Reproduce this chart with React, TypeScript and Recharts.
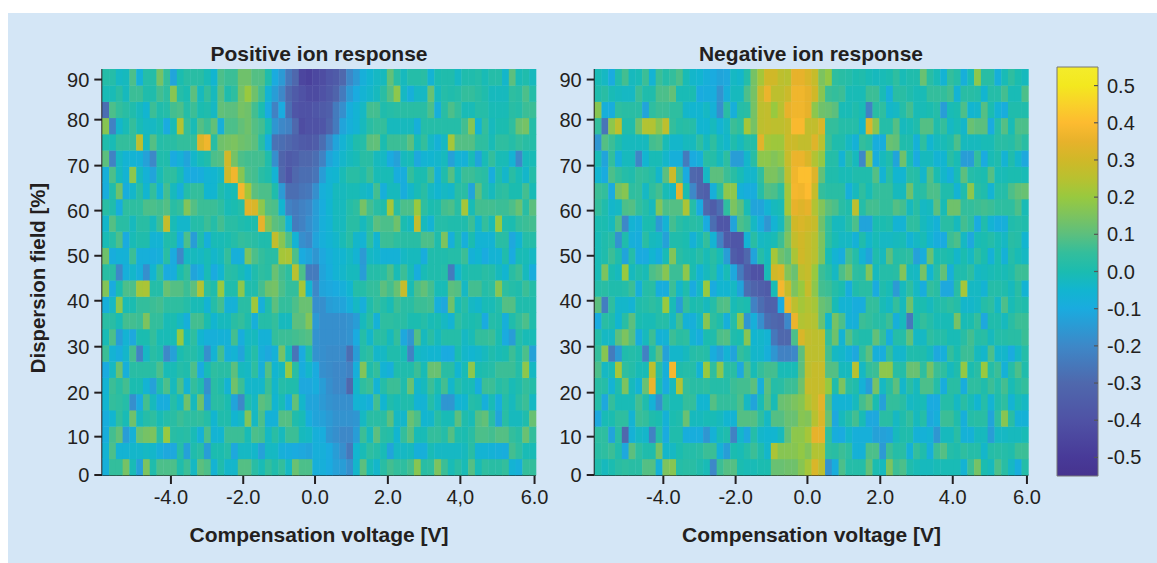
import React from "react";
import { Bar, BarChart, Scatter, ScatterChart, XAxis, YAxis } from "recharts";

// Response values in hundredths; one array per field row, 64 voltage columns each, row 24 is the top.
const pos24 = [2,2,-3,-2,8,-7,2,2,14,5, -12,0,3,3,3,-1,-5,8,6,6, 13,13,9,9,1,-10,-15,-25,-30,-45, -47,-44,-42,-38,-36,-30,-20,-15,-8,-5, -3,-2,11,3,-2,2,2,3,-6,0, 1,1,-3,1,1,2,-1,2,2,-4, 10,-1,1,-2];
const pos23 = [-1,-1,3,-2,6,6,1,1,7,4, 17,2,0,10,-2,5,-2,10,1,4, 14,20,13,7,-6,-14,-20,-30,-36,-40, -43,-43,-40,-37,-32,-24,-15,-10,-6,-4, -2,3,9,18,-3,-8,-3,-3,12,-2, 2,1,2,5,5,3,1,-2,-2,-2, 4,3,8,2];
const pos22 = [-28,8,5,3,1,-2,-5,6,1,2, 7,8,2,6,0,1,-3,11,10,10, 14,13,7,0,-10,-22,-10,-28,-38,-40, -40,-38,-36,-34,-24,-18,-9,-6,-3,7, 7,1,2,3,3,3,3,3,8,-8, 3,8,5,-1,-1,2,2,-1,-1,-1, 3,2,6,6];
const pos21 = [17,-22,-4,-1,5,-1,-3,-3,-1,-10, -1,24,5,-1,9,6,11,-8,8,8, 11,13,9,7,-1,-16,-20,-22,-30,-42, -40,-40,-38,-32,-24,-12,-8,-6,-2,3, 5,5,-2,-2,-2,-2,-8,2,2,2, 2,2,2,7,17,-6,5,-2,0,0, 4,12,14,2];
const pos20 = [1,-1,5,5,5,26,-2,9,2,3, 3,5,5,5,33,37,3,13,14,15, 13,12,10,3,-8,-27,-28,-30,-33,-36, -37,-35,-28,-20,-12,-6,-3,1,2,10, 11,0,6,6,6,10,-1,5,-3,-7, -3,22,9,9,9,4,4,-1,4,4, 2,5,3,2];
const pos19 = [10,-22,-3,-6,-6,-7,-13,-20,1,1, -10,-7,-12,-4,-1,1,8,9,30,14, 8,7,7,7,1,-18,-32,-36,-34,-30, -30,-28,-22,-12,-8,-4,-2,-1,3,3, -2,-3,-10,-13,-2,-1,-11,-6,-5,-4, -2,-13,-6,-7,-1,-12,-1,5,-1,-1, -6,-20,-2,-1];
const pos18 = [-8,8,-2,-6,18,-2,-7,-12,-1,4, 4,-1,-9,-10,-9,-6,-5,-3,30,37, 17,8,7,3,1,-6,-30,-38,-30,-28, -28,-26,-14,-6,-5,-1,3,3,1,6, -1,-1,-1,-9,-9,5,0,0,7,-7, 1,9,-1,6,6,4,3,-9,1,-4, 3,-1,-4,2];
const pos17 = [-9,1,13,-9,-4,3,-5,5,-6,7, -2,-8,2,5,5,-5,-5,1,-2,-1, 38,22,10,8,8,1,-15,-28,-28,-26, -25,-18,-8,-6,-2,-2,-1,-1,-3,-4, 7,-8,-2,-2,-9,-4,-1,3,-3,-5, -3,-4,3,3,-12,10,2,-2,3,4, 0,0,7,-1];
const pos16 = [3,1,-9,4,4,4,8,8,7,9, 3,5,16,9,6,6,6,4,-1,0, 2,34,32,18,9,8,-5,-22,-24,-22, -20,-14,-9,-5,-2,-2,2,4,14,7, 3,1,22,3,8,8,20,4,0,1, 7,8,3,22,-1,7,7,7,6,6, 8,12,3,10];
const pos15 = [-4,9,3,3,-2,3,3,-2,6,28, -1,-4,-4,2,2,6,2,7,3,3, 1,0,1,35,16,10,8,-6,-24,-22, -18,-14,-8,-6,-2,-2,3,3,-2,3, 10,8,8,13,0,-2,27,-2,-6,2, 2,1,1,1,6,-4,5,-1,20,1, 0,5,6,7];
const pos14 = [-1,2,8,-10,-1,1,1,-6,-6,1, 1,-9,8,-14,1,-8,-1,-1,0,2, 5,4,3,1,1,27,17,8,-6,-18, -20,-12,-8,-6,-4,-1,3,-4,-6,4, -5,6,6,4,3,3,3,8,8,1, 15,-8,1,-8,0,-6,-6,-6,3,3, -11,-5,2,2];
const pos13 = [13,-9,-7,-7,6,-8,-8,-9,-8,3, -10,-20,-3,-2,-3,-1,-4,-2,5,-8, -8,15,8,5,3,3,22,23,8,-10, -12,-16,-11,-8,-6,-5,-3,-6,-15,-3, -4,-7,-7,-7,-3,-2,-2,-9,1,1, 1,2,2,6,-7,-5,-10,-6,-6,1, -10,-1,-1,-3];
const pos12 = [3,3,-20,-8,-4,-8,-18,-5,5,-10, -9,0,5,-12,-9,-1,-10,-5,3,2, -1,-4,1,4,3,12,7,4,25,8, -24,-24,-12,-9,-6,-4,-2,-2,-14,2, 2,3,8,-1,6,-1,-9,-1,1,1, 2,-24,-4,0,1,1,3,2,-2,-5, 3,6,-2,-9];
const pos11 = [16,-10,0,8,8,22,23,2,2,12, 9,9,6,10,24,4,1,20,1,1, 18,1,1,7,13,14,8,5,5,22, -5,-20,-12,-11,-10,-8,-5,2,2,5, 5,10,7,12,28,-1,8,11,7,-1, -1,10,9,-3,7,7,2,4,17,4, 2,1,6,2];
const pos10 = [-8,-3,18,-1,0,5,5,6,7,4, 4,4,2,-1,-1,-6,2,7,-7,-7, 3,3,21,-8,1,10,5,5,8,12, 12,-18,-18,-14,-13,-12,-8,-3,-8,1, 5,2,-1,6,3,3,6,6,7,-8, -11,13,-1,3,-3,-4,-1,-1,2,9, 9,1,1,1];
const pos09 = [3,3,-1,7,7,6,15,5,5,-1, 0,-3,-8,7,7,0,-5,-2,-2,3, 5,1,-8,2,2,5,-2,-2,10,10, 16,-15,-18,-18,-18,-18,-17,-14,-2,3, -7,4,4,3,3,0,0,2,-1,0, -3,-6,4,1,0,1,-10,2,1,-8, 1,5,8,1];
const pos08 = [-1,8,-14,-6,-11,0,0,5,-1,-1, -1,20,-1,4,-5,-8,-8,-7,-7,7, -9,-3,-2,-7,-7,5,6,6,7,8, 9,-17,-18,-18,-18,-18,-17,-10,2,-4, 3,3,-2,5,-11,-16,9,-2,3,-2, 2,2,2,-3,-1,5,5,6,0,-10, -14,2,-1,-1];
const pos07 = [6,-6,-9,-4,7,-22,-3,3,1,-20, -13,0,2,2,-1,-18,-6,7,-8,-6, -12,-2,2,-8,-11,-7,14,-1,-26,-10, 1,-17,-18,-19,-19,-19,-28,-14,2,4, -4,-3,1,1,-1,-22,-3,-4,-5,-5, -10,-10,0,-4,-5,-4,-2,1,-1,0, 6,1,8,-13];
const pos06 = [-10,-3,12,-8,3,3,3,3,8,-1, -1,2,1,8,-10,-1,4,3,3,10, -2,-3,4,-8,9,-5,-2,20,3,-9, -4,-10,-18,-19,-20,-20,-22,-8,16,1, 5,-6,-8,1,1,1,6,-1,12,12, 3,3,-5,-1,18,0,1,2,6,6, 6,2,18,-3];
const pos05 = [-6,6,3,7,0,0,-6,-13,1,8, -2,8,-6,5,1,-18,3,1,-6,13, 6,-4,-4,-4,6,-4,2,1,1,-11, -11,-9,-14,-18,-20,-20,-30,-4,4,6, -6,2,6,6,1,12,-4,-2,6,0, 7,-4,2,-1,-1,-9,6,6,2,4, -1,1,5,2];
const pos04 = [-5,5,4,2,-18,-10,7,-2,-9,-9, 2,-3,13,-2,13,-14,3,3,0,-12, -20,1,-3,10,8,-5,-1,-9,11,-4, -12,-12,-15,-17,-18,-18,-18,-6,-6,-8, 7,-5,1,-1,1,1,-6,-6,2,-3, -16,-16,-6,-5,2,1,-8,-1,-9,2, -2,3,6,-3];
const pos03 = [-9,-5,4,-1,13,-2,2,4,-1,2, 3,6,4,4,5,2,-5,1,1,-5, -3,16,-3,8,-7,-7,9,9,1,-1, -9,-12,-13,-15,-17,-17,-17,-16,-3,3, 3,3,10,-3,-4,12,8,-5,-4,3, -1,-1,10,1,-1,9,11,3,-12,3, -2,-2,1,12];
const pos02 = [-9,7,11,-14,-7,12,14,15,3,20, 3,2,3,-1,-7,8,-6,-5,6,6, 6,-1,8,7,-3,3,-2,6,6,-2, -3,-8,-9,-16,-18,-20,-20,-14,6,-2, 10,3,2,-5,5,10,-1,-1,5,5, 2,9,1,0,3,8,8,7,9,9, 5,3,12,5];
const pos01 = [-6,8,-6,-6,-4,-4,-3,-4,-8,-11, -11,2,-13,1,3,-14,0,0,2,-11, -3,-3,-4,-13,-3,-3,-8,-9,-10,-11, -12,-8,-8,-10,-14,-18,-25,-5,-1,4, 2,-1,-12,-3,-3,-2,-8,-8,-1,-3, -3,-3,-3,-2,3,-6,-6,-7,-8,-9, 7,4,-1,-1];
const pos00 = [-8,5,5,14,-1,-13,15,1,8,8, 8,1,6,-3,10,8,-6,1,-4,-4, 9,9,3,-1,5,1,5,-3,12,8, 8,-8,-8,-10,-13,-14,-18,-4,10,-1, -4,3,7,5,4,7,17,3,4,15, 6,-1,3,-1,9,-1,4,3,3,5, -6,-8,5,5];

const neg24 = [-1,-3,-10,1,7,-2,-1,6,-6,6, 2,5,8,-1,-4,-5,-8,-10,-12,-11, -3,-4,2,14,22,30,30,26,25,35, 35,32,28,15,19,4,3,2,0,1, -1,-2,-1,0,4,-1,1,1,12,3, -1,-6,5,2,-8,-1,18,3,3,-8, -1,4,0,-2];
const neg23 = [1,3,-1,-2,-3,-3,6,1,1,8, 8,11,-1,-1,0,-10,-9,-9,-17,-8, -2,-2,8,14,28,36,26,26,29,37, 37,35,30,17,6,5,6,-1,-1,-1, 6,6,-1,-8,3,3,1,-1,-1,5, 5,5,7,-6,3,3,2,-5,2,2, 7,-1,-1,8];
const neg22 = [17,-8,-9,4,3,3,3,-12,4,6, 6,4,4,-4,-5,-5,-3,-7,-18,3, -8,2,3,14,26,27,20,25,35,37, 37,35,18,13,12,10,-1,-1,1,-1, -22,3,4,-4,-3,2,7,-1,-1,0, 2,-14,-1,0,8,-5,-4,9,0,-6, -9,1,1,1];
const neg21 = [5,-26,18,26,1,1,13,24,24,17, 26,5,2,3,2,-5,-5,-2,-6,-3, 6,4,22,14,26,27,26,26,28,39, 39,27,27,32,5,5,2,2,2,-4, 32,17,2,2,9,-2,-1,1,9,9, 1,5,-3,-1,-4,12,10,10,-10,2, 9,-1,8,8];
const neg20 = [-16,9,6,1,-2,-2,-2,-2,7,8, -1,-4,-4,-2,-2,4,-2,4,-2,-4, 1,-2,2,2,34,22,21,21,29,29, 27,27,33,25,6,1,1,-3,-7,5, 3,-9,-9,12,11,1,1,-7,4,-5, -2,-1,1,8,-2,-2,-2,-1,-1,3, 3,2,6,3];
const neg19 = [-1,-12,5,-8,-2,-2,-21,-5,-1,-1, -4,-8,-8,-24,-10,-8,3,2,-2,4, -14,-14,-4,3,18,18,16,18,28,36, 36,32,24,19,2,2,-6,3,-2,-20, 18,-9,-2,1,-12,13,0,-10,-2,-2, -6,-5,3,-1,-14,-14,5,-10,-1,1, -6,1,-4,-11];
const neg18 = [-5,-10,8,5,2,1,5,4,2,-4, 10,29,7,-10,-30,-32,-3,10,10,6, 3,-1,-4,-4,4,15,15,12,26,37, 41,41,33,11,1,1,-1,-1,1,1, 1,9,-6,3,-5,-5,3,2,-4,9, 0,-4,-8,-1,10,2,1,0,9,-1, -1,0,0,-1];
const neg17 = [6,5,-10,14,17,4,5,-3,4,7, -1,-3,35,0,-20,-32,-34,-8,3,18, 18,-7,-9,-9,2,9,8,4,22,38, 37,40,28,5,3,3,3,-8,-2,4, -1,5,5,5,-2,-2,13,2,3,8, 8,1,1,-6,1,18,3,1,-6,2, 2,8,11,12];
const neg16 = [5,1,-4,-3,8,9,5,2,-2,16, 8,9,9,23,2,-10,-30,-35,-28,4, 15,10,-1,-12,-12,-6,-2,-1,22,35, 33,35,24,16,10,8,3,1,26,2, 7,7,5,5,9,7,-2,3,-3,-2, 10,-1,13,13,5,5,6,7,6,4, 4,4,8,-1];
const neg15 = [0,0,-2,8,-20,-6,-8,0,0,-15, -6,7,3,1,3,2,-10,-28,-38,-38, -12,8,6,-3,-9,-16,-6,-2,12,30, 32,30,28,13,5,-2,-2,2,8,-12, -12,0,0,1,-6,-6,4,4,-2,-4, -7,3,3,-2,7,4,-10,1,-6,-9, -8,1,2,1];
const neg14 = [-1,1,3,-17,1,-8,-9,3,-2,-3, -13,1,1,0,-7,-2,5,-6,-22,-36, -38,-38,-6,3,-3,-2,-1,6,15,27, 30,28,25,15,4,-1,-3,-3,-7,1, -4,-1,-3,-3,-2,-1,-6,-3,-1,-5, -9,-10,6,8,-3,-11,-1,0,2,-1, -3,3,2,-5];
const neg13 = [-1,1,6,1,-12,2,-10,-10,-5,-9, -1,16,3,1,0,3,-1,3,-1,-14, -35,-38,-30,-12,2,-2,22,13,10,23, 30,28,25,15,-1,-6,-9,7,2,-6, -12,1,-2,10,2,3,4,-13,-9,12, 0,1,0,-4,0,-3,4,0,-7,0, -7,2,-1,-3];
const neg12 = [-1,15,0,-2,20,-2,1,-1,8,10, 17,6,6,18,0,-6,-2,2,-6,-1, -11,-24,-35,-40,-40,-1,30,32,16,12, 26,28,20,6,3,-3,8,13,4,3, 16,-2,2,2,3,16,-2,-3,14,-5, 3,11,-8,1,1,4,-3,-2,-1,0, -1,1,6,6];
const neg11 = [2,3,1,1,2,6,-8,2,3,-9, -9,6,-4,1,-10,-3,20,-10,-5,-5, -3,-12,-28,-32,-34,-36,-1,38,28,15, 20,28,18,7,6,2,0,-9,1,3, 3,-10,1,-1,-15,-2,4,-3,-9,5, 3,-11,-11,3,22,-3,-3,-6,2,2, 1,-2,3,-6];
const neg10 = [10,-23,4,-4,-4,-6,1,2,4,2, 20,-1,-14,5,0,1,-2,2,8,9, -1,1,0,-22,-28,-33,-33,-10,36,26, 22,24,22,12,10,-1,-6,-6,-9,-9, 5,5,-1,-3,5,-2,13,0,0,-2, 1,2,4,2,-4,-4,-3,2,4,-3, 8,-1,2,1];
const neg09 = [-10,3,1,-5,3,10,0,-1,-1,2, 2,-3,7,-7,-8,-3,17,4,1,-8, 2,18,-16,-8,-18,-28,-30,-32,-20,36, 24,25,24,12,-4,14,8,-7,-8,6, 5,3,2,6,-8,-2,-25,1,5,2, -1,-1,-1,14,-1,0,5,-11,1,1, -2,3,6,6];
const neg08 = [2,-3,-3,10,15,9,-9,-2,6,-7, -6,6,3,4,-6,-9,0,1,8,9, 1,0,17,-5,-4,-6,-25,-30,-30,8, 32,27,26,26,5,13,-6,9,3,1, 1,11,5,-9,2,2,11,-3,-3,4, 2,2,-1,-1,3,7,2,3,-2,2, 2,3,3,6];
const neg07 = [5,17,-24,-15,1,2,1,-22,1,10, -13,-4,-4,-2,2,3,2,-9,-13,-6, -12,5,2,-4,-4,-8,-16,-22,-22,-20, 10,26,26,26,7,-3,-4,-7,-11,4, 10,-8,-9,5,-4,-4,1,1,1,-2, -11,-8,5,0,6,6,-2,-4,8,-4, -4,-10,-3,2];
const neg06 = [8,-3,-1,22,4,2,-1,-1,26,3, -8,38,1,2,2,-6,20,4,18,3, 3,-11,8,-1,5,7,7,-1,-1,-1, 10,26,28,28,9,9,-2,-2,25,-3, 5,6,18,18,3,2,12,12,4,14, 6,4,-2,1,19,0,3,20,2,6, -7,2,8,1];
const neg05 = [3,2,-6,1,15,-2,-6,12,36,0, -10,-2,24,5,3,3,4,2,2,2, 6,7,7,10,-8,10,2,3,6,6, 13,28,28,28,20,1,15,3,1,-7, -14,14,-3,3,10,-4,3,-2,8,8, 2,-9,3,3,-9,4,4,1,6,2, 7,-1,3,5];
const neg04 = [2,-11,5,-1,-1,-1,7,1,-7,-18, 2,-1,-1,5,5,-5,-5,9,5,5, 5,8,-3,-12,-1,9,-1,12,13,15, 17,24,28,34,9,-7,-6,-6,-2,7, 11,0,-13,5,5,3,-3,-2,-1,-10, -10,2,2,-3,3,-1,-5,2,-6,1, 4,-6,-1,-3];
const neg03 = [-11,-1,0,4,4,-6,6,5,1,0, -7,0,1,12,-2,-2,-1,-1,-2,-5, -6,9,9,9,4,-3,9,9,12,12, 17,16,25,32,12,-11,-2,2,7,-1, -11,-11,3,3,-3,1,5,-2,2,-11, -8,6,6,1,-8,2,3,3,-12,4, 17,3,-7,-7];
const neg02 = [4,4,-12,3,-30,-7,-3,-4,-22,2, -10,1,1,-9,-9,-9,-16,-7,-1,1, -22,-4,-11,2,-4,-5,-5,-2,11,18, 18,22,35,35,4,-9,-10,-4,-8,-8, -8,-13,-13,-12,-2,1,1,-7,-7,-6, -16,-2,-2,3,-7,-7,-2,-2,-14,-3, -3,-2,-2,-1];
const neg01 = [3,4,6,1,-11,10,4,1,1,14, -4,-3,0,2,2,3,6,6,-7,-14, 0,-1,2,6,1,-4,23,17,17,17, 19,16,24,24,4,3,6,4,-7,-7, 8,8,-15,6,2,3,-7,5,1,-8, 6,9,2,1,4,2,2,-4,2,3, 2,1,6,6];
const neg00 = [1,-2,0,3,4,3,3,9,9,-7, 15,17,2,3,3,1,-1,-20,6,9, 9,0,-1,-1,0,0,12,12,13,13, 17,22,32,26,-17,-9,8,2,2,2, 11,0,-2,15,6,8,1,-1,-2,-2, -1,-1,-1,-1,-6,6,14,0,-2,8, 3,-3,-9,2];

const positiveRows = [pos00,pos01,pos02,pos03,pos04,pos05,pos06,pos07,pos08,pos09,pos10,pos11,pos12,pos13,pos14,pos15,pos16,pos17,pos18,pos19,pos20,pos21,pos22,pos23,pos24];
const negativeRows = [neg00,neg01,neg02,neg03,neg04,neg05,neg06,neg07,neg08,neg09,neg10,neg11,neg12,neg13,neg14,neg15,neg16,neg17,neg18,neg19,neg20,neg21,neg22,neg23,neg24];

// Axis ticks sit on column / row positions of the measured grid.
const columnTicks = [10.13, 20.8, 31.4, 42.15, 52.85, 63.8];
const columnLabelsPositive = ["-4.0", "-2.0", "0.0", "2.0", "4,0", "6.0"];
const columnLabelsNegative = ["-4.0", "-2.0", "0.0", "2.0", "4.0", "6.0"];
const rowTicks = [0, 2.36, 5.07, 7.9, 10.73, 13.5, 16.28, 19.05, 21.88, 24.35];
const rowLabels = ["0", "10", "20", "30", "40", "50", "60", "70", "80", "90"];
const colorbarTicks = [-0.5, -0.4, -0.3, -0.2, -0.1, 0, 0.1, 0.2, 0.3, 0.4, 0.5];
const colorbarBand = [{ name: "scale", range: [-0.55, 0.55] }];

const colorStops: [number, string][] = [
  [-0.55, "#46338f"], [-0.5, "#483a98"], [-0.4, "#4f52a5"], [-0.3, "#4f68ad"], [-0.2, "#3d88c8"],
  [-0.1, "#1aabdf"], [-0.05, "#12b5d0"], [0, "#1bbcb0"], [0.05, "#33be9c"], [0.1, "#5cbf7e"],
  [0.15, "#7cc35f"], [0.2, "#98c93f"], [0.25, "#b8c130"], [0.3, "#d0b828"], [0.35, "#e7b22b"],
  [0.4, "#fdbb30"], [0.45, "#f9d12a"], [0.5, "#f3e81f"], [0.55, "#f4ec2b"],
];

const INK = "#231f20";
const FONT = "'Liberation Sans', Arial, sans-serif";
const PLOT_W = 433.6;
const PLOT_H = 406;
const COLS = 64;
const ROWS = 25;

function hexToRgb(h: string) {
  return [1, 3, 5].map((i) => parseInt(h.slice(i, i + 2), 16));
}
function colorOf(v: number) {
  if (v <= colorStops[0][0]) return colorStops[0][1];
  for (let i = 1; i < colorStops.length; i++) {
    if (v <= colorStops[i][0]) {
      const [a, ca] = colorStops[i - 1];
      const [b, cb] = colorStops[i];
      const t = (v - a) / (b - a);
      const x = hexToRgb(ca);
      const y = hexToRgb(cb);
      return `rgb(${x.map((c, k) => Math.round(c + (y[k] - c) * t)).join(",")})`;
    }
  }
  return colorStops[colorStops.length - 1][1];
}

function toCells(rows: number[][]) {
  const cells: { col: number; row: number; value: number }[] = [];
  rows.forEach((r, ri) => r.forEach((v, ci) => cells.push({ col: ci + 0.5, row: ri + 0.5, value: v / 100 })));
  return cells;
}

const HeatCell = (p: any) => {
  const w = PLOT_W / COLS;
  const h = PLOT_H / ROWS;
  return (
    <rect
      x={p.cx - w / 2}
      y={p.cy - h / 2}
      width={w + 0.4}
      height={h + 0.4}
      fill={colorOf(p.payload.value)}
    />
  );
};

const YTitle = (p: any) => {
  const cx = 38;
  const cy = 278;
  return (
    <text transform={`rotate(-90 ${cx} ${cy})`} x={cx} y={cy + 7} textAnchor="middle" fill={INK} fontSize={20.4} fontWeight={700} fontFamily={FONT}>
      Dispersion field [%]
    </text>
  );
};

function Heatmap({ rows, labels, width, yWidth, yTitle }: { rows: number[][]; labels: string[]; width: number; yWidth: number; yTitle?: boolean }) {
  const cells = toCells(rows);
  const tickStyle = { fill: INK, fontSize: 20, fontFamily: FONT };
  const line = { stroke: INK, strokeWidth: 2 };
  return (
    <ScatterChart width={width} height={563} margin={{ top: 69, right: width - yWidth - PLOT_W, bottom: 0, left: 0 }}>
      <XAxis
        type="number"
        dataKey="col"
        domain={[0, COLS]}
        ticks={columnTicks}
        interval={0}
        tickFormatter={(_: number, i: number) => labels[i]}
        tick={tickStyle}
        tickSize={9}
        tickMargin={6}
        tickLine={line}
        axisLine={line}
        height={88}
        label={{ value: "Compensation voltage [V]", position: "insideBottom", offset: 21, style: { fill: INK, fontSize: 21, fontWeight: 700, fontFamily: FONT } }}
      />
      <YAxis
        type="number"
        dataKey="row"
        domain={[0, ROWS]}
        ticks={rowTicks}
        interval={0}
        tickFormatter={(_: number, i: number) => rowLabels[i]}
        tick={tickStyle}
        tickSize={8}
        tickMargin={5}
        tickLine={line}
        axisLine={line}
        width={yWidth}
        label={yTitle ? YTitle : undefined}
      />
      <Scatter data={cells} shape={HeatCell} isAnimationActive={false} />
    </ScatterChart>
  );
}

const ColorbarTick = (p: any) => (
  <g>
    <line x1={p.x - 4} x2={p.x} y1={p.y} y2={p.y} stroke="#555" strokeWidth={1.2} />
    <text x={p.x + 9} y={p.y + 7} fill={INK} fontSize={20} fontFamily={FONT}>
      {Number(p.payload.value).toFixed(1)}
    </text>
  </g>
);

function Colorbar() {
  return (
    <BarChart width={117} height={563} data={colorbarBand} barCategoryGap={0} margin={{ top: 67, right: 0, bottom: 87, left: 17 }}>
      <defs>
        <linearGradient id="barRamp" x1="0" y1="1" x2="0" y2="0">
          {colorStops.map(([v, c]) => (
            <stop key={v} offset={`${((v + 0.55) / 1.1) * 100}%`} stopColor={c} />
          ))}
        </linearGradient>
      </defs>
      <XAxis type="category" dataKey="name" hide />
      <YAxis
        type="number"
        orientation="right"
        domain={[-0.55, 0.55]}
        ticks={colorbarTicks}
        interval={0}
        width={59}
        tick={ColorbarTick}
        tickLine={false}
        tickSize={0}
        tickMargin={0}
        axisLine={false}
      />
      <Bar dataKey="range" fill="url(#barRamp)" stroke="#777" strokeWidth={1} isAnimationActive={false} />
    </BarChart>
  );
}

const titleStyle = (center: number): React.CSSProperties => ({
  position: "absolute",
  left: center - 200,
  width: 400,
  top: 43,
  textAlign: "center",
  color: INK,
  fontFamily: FONT,
  fontWeight: 700,
  fontSize: 21,
  lineHeight: "22px",
});
const at = (left: number): React.CSSProperties => ({ position: "absolute", left, top: 0 });

export default function App() {
  return (
    <div style={{ position: "absolute", left: 0, top: 0, width: 1157, height: 563, overflow: "hidden", background: "#fff" }}>
      <div style={{ position: "absolute", left: 8, top: 13, right: 0, bottom: 0, background: "#d4e6f6" }} />
      <div style={titleStyle(319)}>Positive ion response</div>
      <div style={titleStyle(811)}>Negative ion response</div>
      <div style={at(0)}>
        <Heatmap rows={positiveRows} labels={columnLabelsPositive} width={560} yWidth={102.3} yTitle />
      </div>
      <div style={at(545)}>
        <Heatmap rows={negativeRows} labels={columnLabelsNegative} width={510} yWidth={49.7} />
      </div>
      <div style={at(1040)}>
        <Colorbar />
      </div>
    </div>
  );
}
